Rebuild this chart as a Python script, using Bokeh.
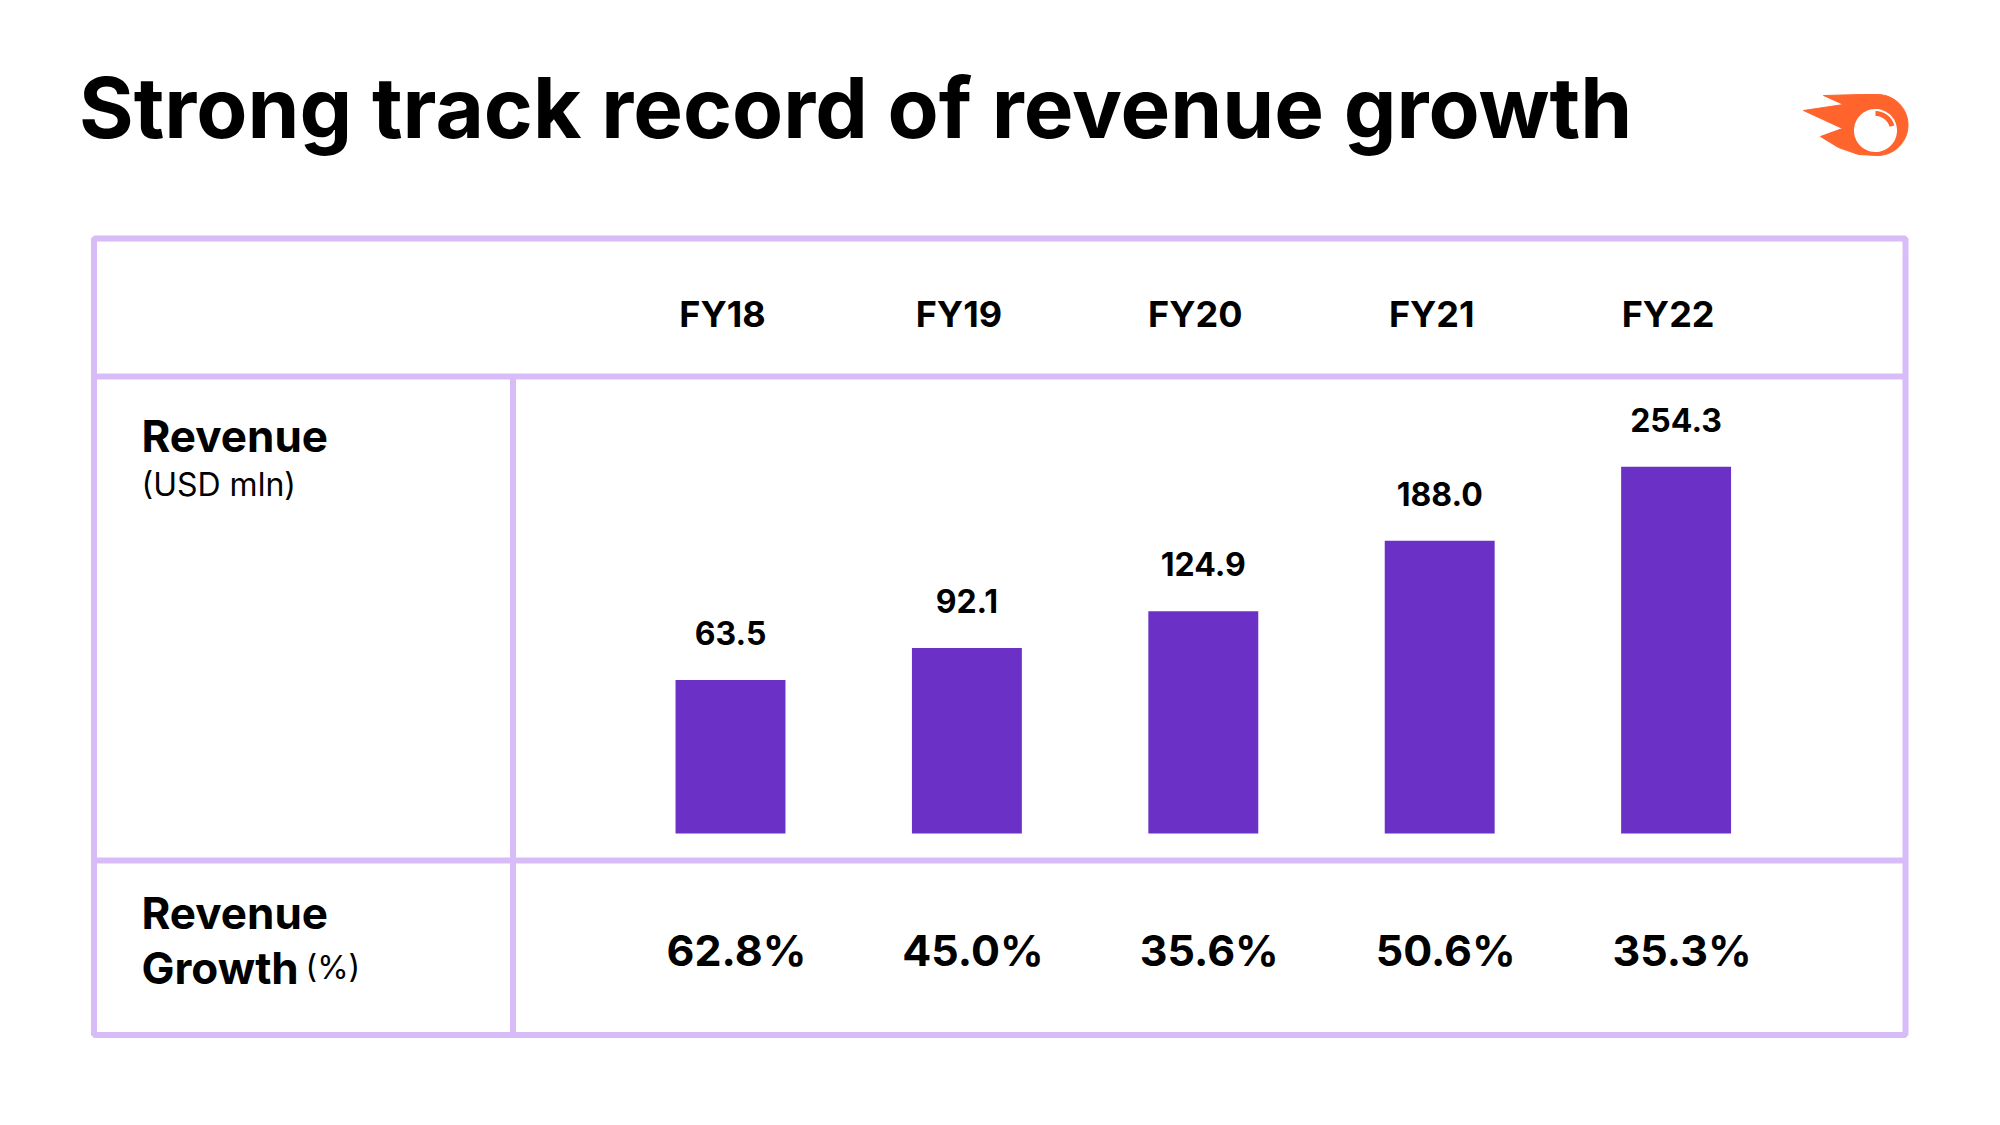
import numpy as np
from bokeh.plotting import figure
from bokeh.models import ColumnDataSource, Range1d, Label
from bokeh.core.properties import value
from bokeh.embed import file_html
from bokeh.resources import INLINE

# ---------------- data ----------------
years = ["FY18", "FY19", "FY20", "FY21", "FY22"]
revenue = [63.5, 92.1, 124.9, 188.0, 254.3]
growth = [62.8, 45.0, 35.6, 50.6, 35.3]
revenue_labels = [f"{v:.1f}" for v in revenue]
growth_labels = [f"{g:.1f}%" for g in growth]

# ---------------- style ----------------
W, H = 1984, 1109
FONT = value("Inter")
PURPLE = "#6B31C7"
GRID = "#D8BCF8"
ORANGE = "#FF642D"
BAR_BASE = -74          # bars start from a truncated baseline

p = figure(width=W, height=H, output_backend="svg", toolbar_location=None,
           x_range=Range1d(0, W), y_range=Range1d(H, 0),
           x_axis_location=None, y_axis_location=None, min_border=0)
p.grid.visible = False
p.outline_line_color = None
p.background_fill_color = "white"
p.border_fill_color = "white"

# scales for bars: category index -> x, revenue -> y
px_per_cat = 236.4
x0 = 730.0
p.extra_x_ranges = {"bars": Range1d(-x0 / px_per_cat, (W - x0) / px_per_cat)}
px_per_unit = 1.117
base_y = 833.0
p.extra_y_ranges = {"rev": Range1d(BAR_BASE - (H - base_y) / px_per_unit,
                                   BAR_BASE + base_y / px_per_unit)}

src = ColumnDataSource(dict(idx=list(range(len(years))), year=years,
                            revenue=revenue, rlab=revenue_labels,
                            glab=growth_labels))

# ---------------- table lines ----------------
L, R, T, B = 93.5, 1905.0, 238.0, 1034.5
HDR, ROW, VX = 376.0, 860.0, 512.5
p.quad(left=L, right=R, top=T, bottom=B, fill_alpha=0, line_color=GRID, line_width=6)
p.segment(x0=[L, L, VX], y0=[HDR, ROW, HDR], x1=[R, R, VX], y1=[HDR, ROW, B],
          line_color=GRID, line_width=6)

# ---------------- bars ----------------
p.vbar(x="idx", top="revenue", bottom=BAR_BASE, width=0.465, source=src,
       fill_color=PURPLE, line_color=None,
       x_range_name="bars", y_range_name="rev")
p.text(x="idx", y="revenue", text="rlab", source=src,
       x_range_name="bars", y_range_name="rev",
       text_font=FONT, text_font_style="bold", text_font_size="32px",
       text_align="center", text_baseline="alphabetic", y_offset=-47,
       text_color="black")

# header labels
p.text(x="idx", y=313.5, text="year", source=src, x_range_name="bars",
       text_font=FONT, text_font_style="bold", text_font_size="36px",
       text_align="center", text_baseline="alphabetic", x_offset=-8,
       text_color="black")

# growth labels
p.text(x="idx", y=949, text="glab", source=src, x_range_name="bars",
       text_font=FONT, text_font_style="bold", text_font_size="43px",
       text_align="center", text_baseline="alphabetic", x_offset=6,
       text_color="black")

# ---------------- left labels & title ----------------
def lab(x, y, t, size, bold=True):
    p.add_layout(Label(x=x, y=y, text=t, text_font="Inter",
                       text_font_style="bold" if bold else "normal",
                       text_font_size=size, text_baseline="alphabetic",
                       text_align="left", text_color="black"))

lab(78.5, 107, "Strong track record of revenue growth", "83.5px")
lab(141, 435.5, "Revenue", "44px")
lab(141, 484, "(USD mln)", "32px", bold=False)
lab(141, 912, "Revenue", "44px")
lab(141, 967, "Growth", "44px")
lab(305, 967, "(%)", "32px", bold=False)

# ---------------- logo ----------------
cx, cy, r = 1877, 124.5, 30.5
th = np.linspace(-np.pi / 2, np.pi / 2, 40)
arc_x = list(cx + r * np.cos(th))
arc_y = list(cy + r * np.sin(th))
pts = [(1823, 95), (1862, 94)]
tail = [(1858, 154), (1838, 147), (1820, 136), (1842, 128), (1803, 110), (1843, 104)]
lx = [a for a, _ in pts] + arc_x + [a for a, _ in tail]
ly = [b for _, b in pts] + arc_y + [b for _, b in tail]
p.patch(lx, ly, fill_color=ORANGE, line_color=ORANGE, line_width=1)
wx, wy, wr = 1875, 130, 21.5
tc = np.linspace(0, 2 * np.pi, 60)
p.patch(list(wx + wr * np.cos(tc)), list(wy + wr * np.sin(tc)),
        fill_color="white", line_color=None)
ta = np.linspace(-np.pi / 2, -np.pi / 12, 20)
ax = list(wx + 19.5 * np.cos(ta)) + list(wx + 14.5 * np.cos(ta[::-1]))
ay = list(wy + 19.5 * np.sin(ta)) + list(wy + 14.5 * np.sin(ta[::-1]))
p.patch(ax, ay, fill_color=ORANGE, line_color=None)

open("out.html", "w").write(file_html(p, INLINE))
